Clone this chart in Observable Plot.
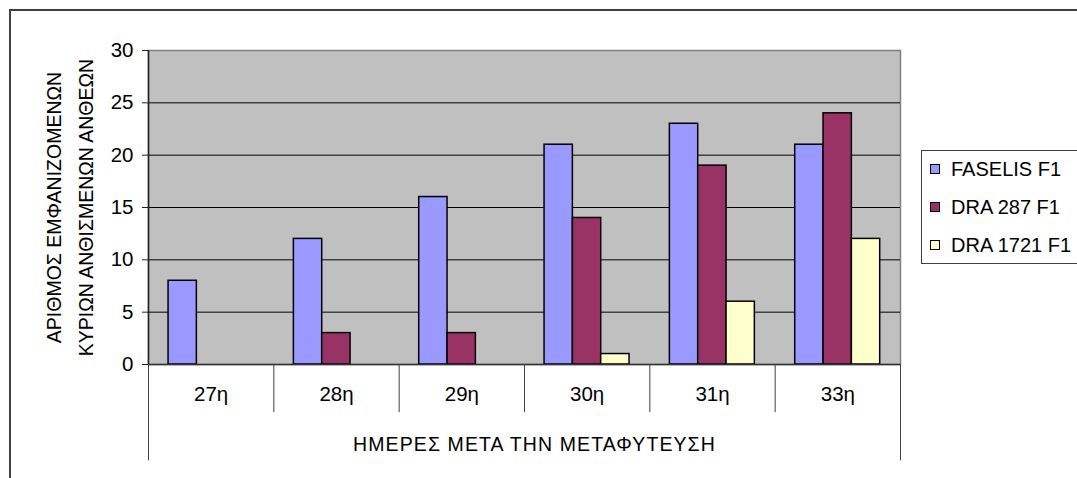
<!DOCTYPE html>
<html>
<head>
<meta charset="utf-8">
<script src="https://cdn.jsdelivr.net/npm/d3@7"></script>
<script src="https://cdn.jsdelivr.net/npm/@observablehq/plot@0.6"></script>
<style>
  html, body { margin: 0; padding: 0; background: #fff; overflow: hidden; }
  #wrap { position: relative; width: 1077px; height: 478px; overflow: hidden; font-family: "Liberation Sans", Arial, sans-serif; }
  #outer { position: absolute; left: 9px; top: 9px; width: 1200px; height: 600px; border: 2px solid #404040; box-sizing: border-box; pointer-events: none; }
  #chart { position: absolute; left: 0; top: 0; }
  #legend { position: absolute; left: 921px; top: 150px; width: 200px; height: 114px; border: 1px solid #404040; box-sizing: border-box; background: #fff; }
  .item { position: absolute; left: 8px; height: 20px; display: flex; align-items: center; font-size: 20px; color: #000; white-space: nowrap; }
  .sw { width: 8px; height: 8px; border: 1.5px solid #000; margin-right: 11px; }
</style>
</head>
<body>
<div id="wrap">
  <div id="chart"></div>
  <div id="legend"></div>
  <div id="outer"></div>
</div>
<script>
const categories = ["27η", "28η", "29η", "30η", "31η", "33η"];
const seriesNames = ["FASELIS F1", "DRA 287 F1", "DRA 1721 F1"];
const faselis = [8, 12, 16, 21, 23, 21];
const dra287 = [0, 3, 3, 14, 19, 24];
const dra1721 = [0, 0, 0, 1, 6, 12];
const seriesColors = ["#9999FF", "#993366", "#FFFFCC"];
const yTicks = [0, 5, 10, 15, 20, 25, 30];
const xTitle = "ΗΜΕΡΕΣ ΜΕΤΑ ΤΗΝ ΜΕΤΑΦΥΤΕΥΣΗ";
const yTitle = "ΑΡΙΘΜΟΣ ΕΜΦΑΝΙΖΟΜΕΝΩΝ\nΚΥΡΙΩΝ ΑΝΘΙΣΜΕΝΩΝ ΑΝΘΕΩΝ";

const W = 1077, H = 478;
const mL = 148, mR = 177, mT = 50, mB = 114;
const band = (W - mL - mR) / categories.length;
const barW = band * 0.226;
const padL = band * 0.16;
const FS = 20.5;
const TFS = 19.5;

const seriesValues = [faselis, dra287, dra1721];
const rows = [];
seriesValues.forEach((vals, s) => vals.forEach((v, i) => rows.push({s, i, cat: categories[i], v})));

const barMarks = seriesNames.map((name, s) =>
  Plot.rectY(rows.filter(d => d.s === s && d.v > 0), {
    x1: d => d.i, x2: d => d.i + 1, y1: 0, y2: "v",
    insetLeft: padL + s * barW,
    insetRight: band - padL - (s + 1) * barW,
    fill: seriesColors[s], stroke: "#000", strokeWidth: 1.5
  })
);

const idx = categories.map((c, i) => i);
const inner = idx.slice(1);
const edges = [0, categories.length];

const chart = Plot.plot({
  width: W, height: H,
  marginLeft: mL, marginRight: mR, marginTop: mT, marginBottom: mB,
  style: {fontFamily: "'Liberation Sans', Arial, sans-serif", fontSize: FS + "px", background: "transparent", color: "#000"},
  x: {type: "linear", domain: [0, categories.length], axis: null},
  y: {type: "linear", domain: [0, 30], axis: null},
  marks: [
    Plot.frame({fill: "#C0C0C0", stroke: "#808080", strokeWidth: 1.5}),
    Plot.ruleY(yTicks.filter(t => t > 0 && t < 30), {stroke: "#000", strokeWidth: 1}),
    ...barMarks,
    Plot.ruleY([0], {stroke: "#333", strokeWidth: 1.5}),
    Plot.ruleX([0], {y1: 0, y2: 30, stroke: "#222", strokeWidth: 1.5}),
    Plot.axisY({ticks: yTicks, tickSize: 6, tickPadding: 9, label: null, stroke: "#222", fill: "#000", fontSize: FS}),
    Plot.ruleX(inner, {x: d => d, y1: 0, y2: -4.6, stroke: "#404040", strokeWidth: 1}),
    Plot.ruleX(edges, {x: d => d, y1: 0, y2: -9.2, stroke: "#404040", strokeWidth: 1}),
    Plot.text(idx, {x: d => d + 0.5, y: 0, dy: 30, text: d => categories[d], fill: "#000", fontSize: FS}),
    Plot.text([xTitle], {x: categories.length / 2, y: 0, dy: 80, dx: 10, fill: "#000", fontSize: TFS, className: "xtitle"}),
    Plot.text([yTitle], {frameAnchor: "left", dx: -82, rotate: -90, textAnchor: "middle", lineAnchor: "middle", lineHeight: 1.64, fill: "#000", fontSize: TFS})
  ]
});
d3.select(chart).selectAll(".xtitle text").style("letter-spacing", "1.1px");
document.getElementById("chart").appendChild(chart);

const legend = document.getElementById("legend");
seriesNames.forEach((name, s) => {
  const it = document.createElement("div");
  it.className = "item";
  it.style.top = (8 + s * 38) + "px";
  const sw = document.createElement("span");
  sw.className = "sw";
  sw.style.background = seriesColors[s];
  const tx = document.createElement("span");
  tx.textContent = name;
  it.appendChild(sw); it.appendChild(tx);
  legend.appendChild(it);
});
</script>
</body>
</html>
